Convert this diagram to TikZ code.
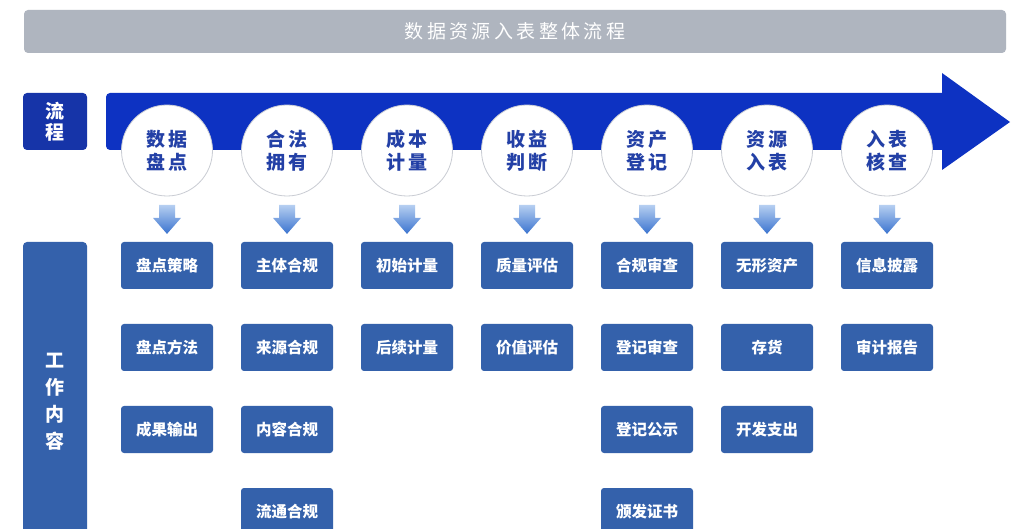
\documentclass[tikz,border=0pt]{standalone}
\usepackage{fontspec}
\setmainfont{Noto Sans CJK SC}
\newfontfamily\titlefont[LetterSpace=18]{Noto Sans CJK SC}
\newfontfamily\circfont[LetterSpace=20]{Noto Sans CJK SC}
\usetikzlibrary{calc}
\definecolor{titlegray}{HTML}{AFB5BF}
\definecolor{flowblue}{HTML}{0D32C2}
\definecolor{labelblue}{HTML}{1634A8}
\definecolor{boxblue}{HTML}{3461AB}
\definecolor{circtext}{HTML}{2340A6}
\definecolor{circline}{HTML}{C9CCD3}
\definecolor{arrtop}{HTML}{B6CFF1}
\definecolor{arrbot}{HTML}{3A73CF}
\tikzset{
  titlebar/.style={fill=titlegray, rounded corners=4pt, text=white, inner sep=0pt,
    font=\titlefont\fontsize{19}{19}\selectfont},
  sidelabel/.style={fill=labelblue, rounded corners=4pt, text=white, inner sep=0pt, align=center,
    font=\fontsize{19}{21}\selectfont\bfseries},
  worklabel/.style={fill=boxblue, rounded corners=4pt, text=white, inner sep=0pt, align=center,
    font=\fontsize{19}{27}\selectfont\bfseries},
  stage/.style={circle, fill=white, draw=circline, line width=0.8pt, minimum size=91pt, inner sep=0pt,
    text=circtext, align=center, font=\circfont\bfseries\fontsize{19}{23}\selectfont},
  task/.style={fill=boxblue, rounded corners=3pt, minimum width=92pt, minimum height=47pt,
    inner sep=0pt, text=white, font=\fontsize{15.5}{16}\selectfont\bfseries},
  downarrow/.style={top color=arrtop, bottom color=arrbot, draw=none}
}
\begin{document}
\begin{tikzpicture}[x=1pt,y=-1pt]
\clip (0,0) rectangle (1026,529);
\fill[white] (0,0) rectangle (1026,529);
% title
\node[titlebar, minimum width=982pt, minimum height=43pt] (title) at (515,31.5) {数据资源入表整体流程};
% row labels
\node[sidelabel, minimum width=64pt, minimum height=57pt] (flow) at (55,121.5) {流\\程};
\node[worklabel, minimum width=64pt, minimum height=320pt] (work) at (55,402) {工\\作\\内\\容};
% big process arrow
\fill[flowblue] (200,93) -- (942,93) -- (942,73) -- (1010,122) -- (942,170) -- (942,150) -- (200,150)
  [rounded corners=4pt] -- (106,150) -- (106,93) -- cycle;
% stages
\foreach \i/\x/\t in {1/167/{数据\\盘点},2/287/{合法\\拥有},3/407/{成本\\计量},4/527/{收益\\判断},
                      5/647/{资产\\登记},6/767/{资源\\入表},7/887/{入表\\核查}}{
  \node[stage] (c\i) at (\x,150.5) {\t};
  \path (c\i.south) ++(0,8.5) coordinate (a\i);
  \shade[downarrow] (a\i) ++(-8,0) -- ++(16,0) -- ++(0,13) -- ++(6,0) -- ++(-14,16) -- ++(-14,-16) -- ++(6,0) -- cycle;
}
% tasks
\foreach \i/\x/\list in {1/167/{盘点策略,盘点方法,成果输出},
                         2/287/{主体合规,来源合规,内容合规,流通合规},
                         3/407/{初始计量,后续计量},
                         4/527/{质量评估,价值评估},
                         5/647/{合规审查,登记审查,登记公示,颁发证书},
                         6/767/{无形资产,存货,开发支出},
                         7/887/{信息披露,审计报告}}{
  \foreach \t [count=\j] in \list {
    \node[task] (t\i-\j) at (\x,{265.5+82*(\j-1)}) {\t};
  }
}
\end{tikzpicture}
\end{document}
